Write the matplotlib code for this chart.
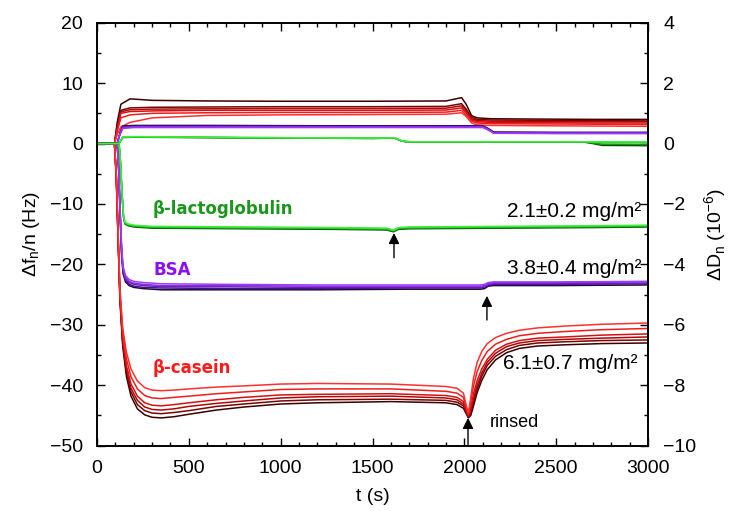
import matplotlib
matplotlib.use("Agg")
import matplotlib.pyplot as plt
from matplotlib.ticker import MultipleLocator

plt.rcParams['font.family'] = ['Liberation Sans', 'DejaVu Sans']

# --- beta-casein, frequency (Hz), overtones light -> dark
t_cas_f = [0, 95, 105, 115, 125, 140, 160, 185, 220, 260, 300, 350, 420, 500, 650, 800,
           1000, 1200, 1600, 1900, 1960, 1995, 2012, 2022, 2035, 2050, 2070, 2095, 2125,
           2170, 2230, 2300, 2400, 2550, 2750, 3000]
f_cas = [
    [0, 0, -5.0, -15.0, -24.0, -30.5, -34.5, -37.3, -39.3, -40.4, -40.8, -40.9, -40.8, -40.6,
     -40.3, -40.1, -39.8, -39.7, -39.8, -40.2, -40.5, -41.3, -43.5, -44.6, -42.0, -38.8,
     -36.2, -34.4, -33.1, -32.1, -31.4, -30.9, -30.5, -30.2, -29.9, -29.7],
    [0, 0, -5.1, -15.3, -24.6, -31.3, -35.6, -38.6, -40.6, -41.7, -42.1, -42.2, -42.0, -41.8,
     -41.4, -41.1, -40.7, -40.6, -40.6, -41.0, -41.3, -42.0, -43.9, -44.8, -42.8, -40.1,
     -37.7, -35.9, -34.4, -33.2, -32.4, -31.8, -31.4, -31.1, -30.8, -30.6],
    [0, 0, -5.3, -15.6, -25.1, -32.2, -36.7, -39.8, -41.8, -42.9, -43.3, -43.4, -43.2, -42.9,
     -42.4, -42.0, -41.6, -41.5, -41.4, -41.7, -42.0, -42.7, -44.2, -45.0, -43.7, -41.4,
     -39.2, -37.3, -35.7, -34.2, -33.2, -32.6, -32.2, -32.0, -31.7, -31.5],
    [0, 0, -5.4, -15.7, -25.4, -32.6, -37.3, -40.5, -42.5, -43.6, -44.0, -44.1, -43.9, -43.5,
     -43.0, -42.6, -42.1, -41.9, -41.8, -42.1, -42.4, -43.1, -44.4, -45.2, -44.1, -42.2,
     -40.0, -38.0, -36.2, -34.7, -33.6, -33.0, -32.6, -32.4, -32.2, -32.0],
    [0, 0, -5.4, -15.9, -25.7, -33.1, -37.9, -41.1, -43.2, -44.2, -44.6, -44.7, -44.5, -44.2,
     -43.5, -43.1, -42.6, -42.4, -42.3, -42.5, -42.8, -43.4, -44.6, -45.3, -44.6, -42.9,
     -40.6, -38.5, -36.7, -35.2, -34.1, -33.4, -33.0, -32.8, -32.6, -32.5],
    [0, 0, -5.5, -16.0, -26.0, -33.5, -38.5, -41.8, -43.9, -44.9, -45.3, -45.4, -45.2, -44.8,
     -44.1, -43.6, -43.1, -42.9, -42.7, -42.9, -43.2, -43.8, -44.8, -45.4, -45.0, -43.4,
     -41.2, -39.2, -37.4, -35.8, -34.6, -33.9, -33.5, -33.3, -33.1, -33.0],
]

# --- beta-casein, dissipation (1e-6)
t_cas_d = [0, 95, 110, 130, 180, 300, 600, 1000, 1500, 1900, 1985, 2010, 2040, 2070,
           2150, 2400, 2700, 3000]
d_cas = [
    [0, 0, 0.30, 0.55, 0.70, 0.85, 0.93, 0.95, 0.96, 0.97, 1.02, 0.90, 0.68, 0.62, 0.60, 0.59, 0.58, 0.57],
    [0, 0, 0.40, 0.85, 0.95, 1.00, 1.02, 1.03, 1.03, 1.04, 1.10, 0.95, 0.74, 0.68, 0.66, 0.65, 0.64, 0.63],
    [0, 0, 0.45, 1.00, 1.06, 1.08, 1.10, 1.10, 1.10, 1.11, 1.18, 1.02, 0.78, 0.72, 0.70, 0.69, 0.68, 0.68],
    [0, 0, 0.50, 1.05, 1.12, 1.14, 1.15, 1.16, 1.16, 1.17, 1.25, 1.08, 0.82, 0.76, 0.74, 0.73, 0.72, 0.72],
    [0, 0, 0.55, 1.10, 1.18, 1.20, 1.21, 1.22, 1.22, 1.23, 1.32, 1.14, 0.86, 0.80, 0.78, 0.77, 0.76, 0.75],
    [0, 0, 0.70, 1.30, 1.48, 1.43, 1.41, 1.40, 1.40, 1.41, 1.52, 1.30, 0.92, 0.85, 0.82, 0.81, 0.80, 0.80],
]

# --- BSA
t_bsa_f = [0, 110, 118, 126, 134, 142, 155, 175, 200, 250, 350, 700, 1200, 1700, 2090,
           2110, 2130, 2160, 2500, 3000]
f_bsa = [
    [0, 0, -4.0, -11.0, -17.0, -20.3, -21.8, -22.5, -22.8, -23.0, -23.2, -23.3, -23.4, -23.4,
     -23.4, -23.3, -23.0, -22.9, -22.9, -22.8],
    [0, 0, -4.1, -11.2, -17.4, -20.6, -22.1, -22.8, -23.1, -23.3, -23.5, -23.5, -23.6, -23.6,
     -23.6, -23.5, -23.2, -23.0, -23.0, -22.9],
    [0, 0, -4.2, -11.5, -17.8, -20.9, -22.4, -23.0, -23.3, -23.5, -23.7, -23.7, -23.8, -23.8,
     -23.8, -23.7, -23.3, -23.2, -23.2, -23.1],
    [0, 0, -4.2, -11.8, -18.1, -21.2, -22.6, -23.3, -23.6, -23.8, -23.9, -24.0, -24.0, -23.9,
     -23.9, -23.8, -23.5, -23.3, -23.3, -23.2],
    [0, 0, -4.3, -12.0, -18.5, -21.5, -22.9, -23.5, -23.8, -24.0, -24.2, -24.2, -24.2, -24.1,
     -24.1, -24.0, -23.6, -23.5, -23.5, -23.4],
]
t_bsa_d = [0, 110, 125, 140, 200, 600, 1200, 1800, 2100, 2130, 2160, 2500, 3000]
d_bsa = [
    [0, 0, 0.30, 0.50, 0.53, 0.53, 0.53, 0.53, 0.53, 0.45, 0.34, 0.33, 0.33],
    [0, 0, 0.31, 0.52, 0.55, 0.55, 0.55, 0.55, 0.55, 0.46, 0.35, 0.34, 0.34],
    [0, 0, 0.32, 0.54, 0.56, 0.56, 0.56, 0.56, 0.56, 0.47, 0.36, 0.35, 0.35],
    [0, 0, 0.33, 0.56, 0.58, 0.58, 0.57, 0.57, 0.57, 0.48, 0.37, 0.36, 0.36],
    [0, 0, 0.35, 0.58, 0.60, 0.60, 0.59, 0.59, 0.59, 0.50, 0.38, 0.37, 0.37],
]

# --- beta-lactoglobulin
t_lac_f = [0, 120, 128, 136, 144, 152, 170, 200, 300, 800, 1300, 1580, 1600, 1615, 1640,
           1700, 2200, 2700, 3000]
f_lac = [
    [0, 0, -3.0, -8.0, -11.8, -13.0, -13.3, -13.5, -13.7, -13.8, -13.9, -14.0, -14.2, -14.3,
     -13.9, -13.8, -13.7, -13.6, -13.5],
    [0, 0, -3.1, -8.1, -11.9, -13.1, -13.4, -13.6, -13.8, -13.9, -14.0, -14.1, -14.3, -14.4,
     -14.0, -13.9, -13.8, -13.7, -13.6],
    [0, 0, -3.2, -8.2, -12.0, -13.2, -13.5, -13.7, -13.9, -14.0, -14.1, -14.2, -14.4, -14.5,
     -14.1, -14.0, -13.9, -13.8, -13.7],
    [0, 0, -3.3, -8.3, -12.1, -13.3, -13.6, -13.8, -14.0, -14.1, -14.2, -14.3, -14.5, -14.6,
     -14.2, -14.1, -14.0, -13.9, -13.8],
]
t_lac_d = [0, 120, 140, 200, 800, 1500, 1620, 1660, 1700, 2650, 2700, 2750, 3000]
d_lac = [
    [0, 0, 0.22, 0.23, 0.20, 0.18, 0.19, 0.09, 0.06, 0.06, 0.06, 0.06, 0.06],
    [0, 0, 0.21, 0.22, 0.20, 0.18, 0.19, 0.09, 0.06, 0.06, 0.04, 0.03, 0.03],
    [0, 0, 0.21, 0.22, 0.19, 0.17, 0.18, 0.08, 0.05, 0.05, 0.02, -0.02, -0.03],
    [0, 0, 0.20, 0.21, 0.19, 0.17, 0.18, 0.08, 0.05, 0.05, 0.00, -0.06, -0.07],
]

cas_colors = ['#ff3030', '#f01c1c', '#d41010', '#ac0808', '#780404', '#3c0000']
bsa_colors = ['#9b3cff', '#8a2be2', '#6a1fb8', '#46148a', '#1e0838']
lac_colors = ['#3cf03c', '#22c822', '#129412', '#064e06']

# -------------------------------------------------------------
# FIGURE
# -------------------------------------------------------------
fig = plt.figure(figsize=(7.34, 5.11), dpi=100)
ax = fig.add_axes([97 / 734, 1 - 445.7 / 511, 551 / 734, 423 / 511])
ax2 = ax.twinx()

# dark overtones first so the light ones end up on top
for t, rows, cols in [(t_cas_f, f_cas, cas_colors), (t_bsa_f, f_bsa, bsa_colors),
                      (t_lac_f, f_lac, lac_colors)]:
    for vals, c in reversed(list(zip(rows, cols))):
        ax.plot(t, vals, color=c, lw=1.1)

for t, rows, cols in [(t_cas_d, d_cas, cas_colors), (t_bsa_d, d_bsa, bsa_colors),
                      (t_lac_d, d_lac, lac_colors)]:
    for vals, c in reversed(list(zip(rows, cols))):
        ax2.plot(t, vals, color=c, lw=1.1)

ax.set_xlim(0, 3000)
ax.set_ylim(-50, 20)
ax2.set_ylim(-10, 4)

ax.xaxis.set_major_locator(MultipleLocator(500))
ax.xaxis.set_minor_locator(MultipleLocator(100))
ax.yaxis.set_major_locator(MultipleLocator(10))
ax.yaxis.set_minor_locator(MultipleLocator(5))
ax2.yaxis.set_major_locator(MultipleLocator(2))
ax2.yaxis.set_minor_locator(MultipleLocator(1))

ax.tick_params(which='both', direction='in', top=True, right=False, labelsize=14, width=1)
ax.tick_params(which='major', length=6)
ax.tick_params(which='minor', length=3)
ax.tick_params(axis='x', pad=10)
ax.tick_params(axis='y', pad=10)
ax2.tick_params(which='both', direction='in', labelsize=14, width=1, pad=11)
ax2.tick_params(which='major', length=6)
ax2.tick_params(which='minor', length=3)

for a in (ax, ax2):
    for s in a.spines.values():
        s.set_linewidth(1.2)

ax.set_xlabel('t (s)', fontsize=14, labelpad=8)
ax.set_ylabel('Δf$_\\mathregular{n}$/n (Hz)', fontsize=14, labelpad=6)
ax2.set_ylabel('ΔD$_\\mathregular{n}$ (10$^{\\mathregular{-6}}$)', fontsize=14, labelpad=4)

# --- labels
ax.text(305, -10.8, 'β-lactoglobulin', color='#1a961a', fontsize=12, fontweight='bold',
        family='DejaVu Sans', va='center')
ax.text(305, -20.9, 'BSA', color='#8a10ff', fontsize=12, fontweight='bold',
        family='DejaVu Sans', va='center')
ax.text(305, -37.1, 'β-casein', color='#ff1a1a', fontsize=12, fontweight='bold',
        family='DejaVu Sans', va='center')

ax.text(2965, -11.2, '2.1±0.2 mg/m²', fontsize=15, ha='right', va='center')
ax.text(2965, -20.6, '3.8±0.4 mg/m²', fontsize=15, ha='right', va='center')
ax.text(2945, -36.4, '6.1±0.7 mg/m²', fontsize=15, ha='right', va='center')
ax.text(2140, -46.2, 'rinsed', fontsize=13, va='center')

# --- rinse arrows
arrow = dict(arrowstyle='-|>', color='black', lw=1, mutation_scale=16, shrinkA=0, shrinkB=0)
ax.annotate('', xy=(1617, -14.8), xytext=(1617, -18.9), arrowprops=arrow)
ax.annotate('', xy=(2123, -25.2), xytext=(2123, -29.2), arrowprops=arrow)
ax.annotate('', xy=(2020, -45.4), xytext=(2020, -49.8), arrowprops=arrow)

fig.savefig('out.png', dpi=100)
plt.close(fig)
